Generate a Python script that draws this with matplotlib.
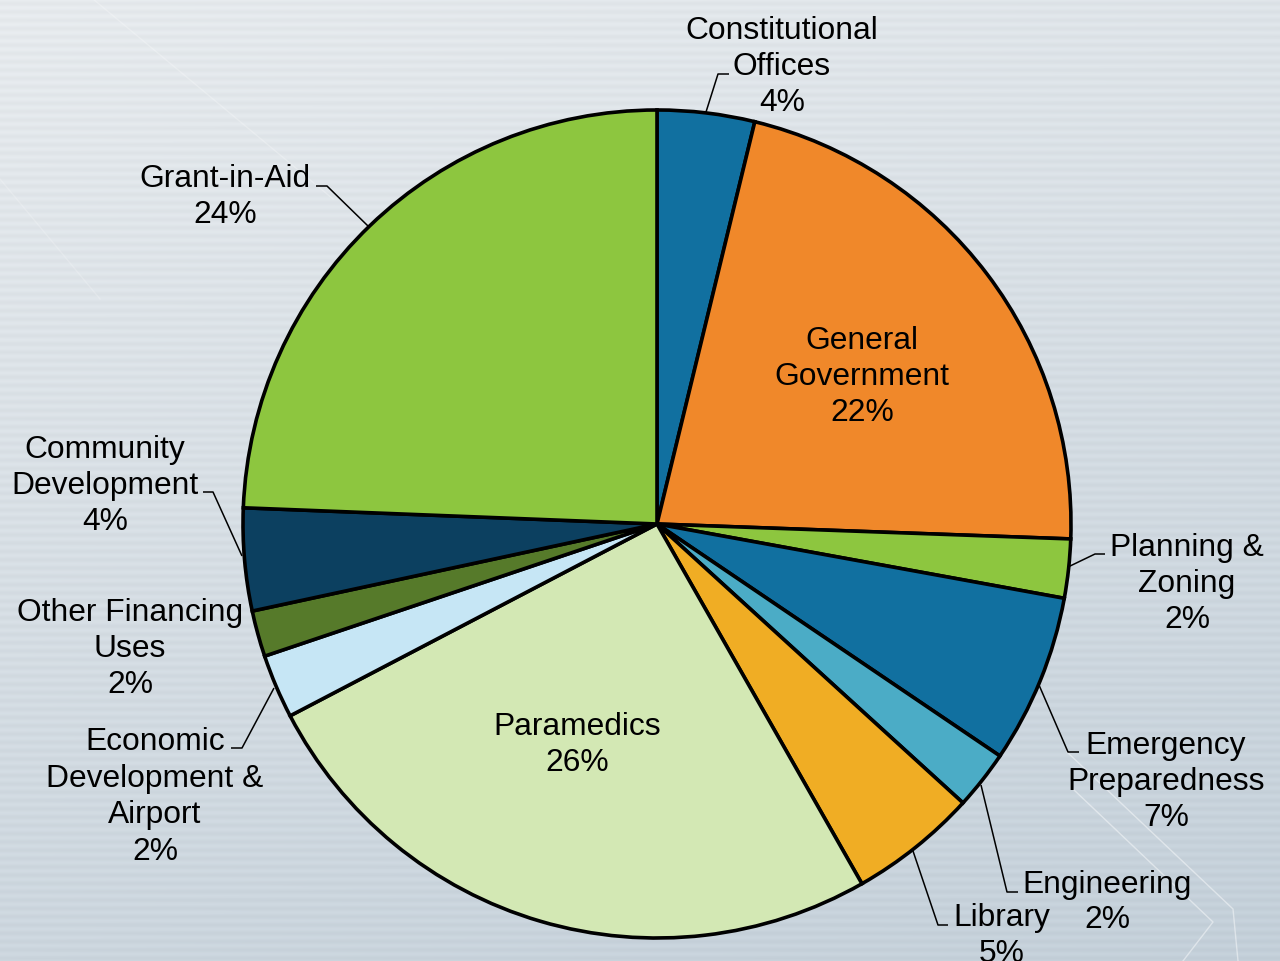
import numpy as np
import matplotlib
matplotlib.use("Agg")
import matplotlib.pyplot as plt

# ---- data ----
categories = ["Constitutional Offices", "General Government", "Planning & Zoning",
              "Emergency Preparedness", "Engineering", "Library", "Paramedics",
              "Economic Development & Airport", "Other Financing Uses",
              "Community Development", "Grant-in-Aid"]
label_text = ["Constitutional\nOffices", "General\nGovernment", "Planning &\nZoning",
              "Emergency\nPreparedness", "Engineering", "Library", "Paramedics",
              "Economic\nDevelopment &\nAirport", "Other Financing\nUses",
              "Community\nDevelopment", "Grant-in-Aid"]
values = [3.8, 21.8, 2.3, 6.6, 2.3, 5.0, 25.6, 2.5, 1.8, 4.0, 24.4]
colors = ["#1170A0", "#F0882A", "#8DC63F", "#1170A0", "#4BACC6", "#F0AD24",
          "#D3E8B4", "#C6E6F5", "#567A2A", "#0C4060", "#8DC63F"]

W, H = 1280, 962
fig = plt.figure(figsize=(W / 100, H / 100), dpi=100)
ax = fig.add_axes([0, 0, 1, 1])
ax.set_xlim(0, W)
ax.set_ylim(0, H)
ax.axis("off")

# background: gradient with fine horizontal stripes
yy = np.arange(H)[:, None]
xx = np.arange(W)[None, :]
t = (yy / H) * 0.75 + (xx / W) * 0.25
top = np.array([0.905, 0.920, 0.932])
bot = np.array([0.765, 0.812, 0.850])
stripe = 0.012 * np.cos(2 * np.pi * yy / 8.3)
img = top[None, None, :] * (1 - t[..., None]) + bot[None, None, :] * t[..., None]
img = np.clip(img + stripe[..., None], 0, 1)
ax.imshow(img, extent=(0, W, 0, H), origin="upper", zorder=0, aspect="auto")

def Y(py):
    return H - py

# faint decorative lines in the background
deco = [
    ([(1067, 753), (1233, 910), (1238, 962)], 0.45),
    ([(1073, 790), (1213, 923), (1183, 962)], 0.45),
    ([(93, 0), (333, 200)], 0.25),
    ([(0, 180), (100, 300)], 0.2),
]
for pts, a in deco:
    ax.plot([p[0] for p in pts], [Y(p[1]) for p in pts], color="white",
            alpha=a, linewidth=1.0, zorder=1)

cx, cy, R = 657, Y(525), 414
wedges, _ = ax.pie(values, colors=colors, startangle=90, counterclock=False,
                   center=(cx, cy), radius=R, frame=True,
                   wedgeprops=dict(edgecolor="black", linewidth=2.6))
for w in wedges:
    w.set_zorder(3)
ax.set_xlim(0, W)
ax.set_ylim(0, H)
ax.set_aspect("equal")
ax.axis("off")

total = sum(values)
pcts = [f"{round(v / total * 100)}%" for v in values]

font = dict(family=["Liberation Sans", "DejaVu Sans"], fontsize=22.9,
            color="black", ha="center", va="center", linespacing=1.28)

# label centre positions (pixels)
pos = {
    0: (782, 67),
    1: (862, 377),
    2: (1187, 584),
    3: (1166, 782),
    6: (577, 745),
    8: (130, 649),
    9: (105, 486),
    10: (225, 197),
    7: (155, 797),
}
for i, (px, py) in pos.items():
    ax.text(px, Y(py), label_text[i] + "\n" + pcts[i], **font, zorder=5)

# Engineering and Library: label and percentage offset
ax.text(1107, Y(885), label_text[4], **font, zorder=5)
ax.text(1107, Y(920), pcts[4], **font, zorder=5)
ax.text(1002, Y(918), label_text[5], **font, zorder=5)
ax.text(1002, Y(954), pcts[5], **font, zorder=5)

# leader lines (pixels)
leaders = [
    [(706, 113), (718, 75), (729, 75)],
    [(1068, 568), (1095, 555), (1105, 555)],
    [(1039, 686), (1068, 753), (1079, 753)],
    [(981, 786), (1007, 893), (1018, 893)],
    [(913, 852), (938, 926), (948, 926)],
    [(274, 689), (242, 749), (231, 749)],
    [(242, 557), (213, 493), (203, 493)],
    [(368, 227), (327, 187), (316, 187)],
]
for pts in leaders:
    xs = [p[0] for p in pts]
    ys = [Y(p[1]) for p in pts]
    ax.plot(xs, ys, color="black", linewidth=1.1, zorder=4, solid_capstyle="butt")

fig.savefig("out.png", dpi=100)
